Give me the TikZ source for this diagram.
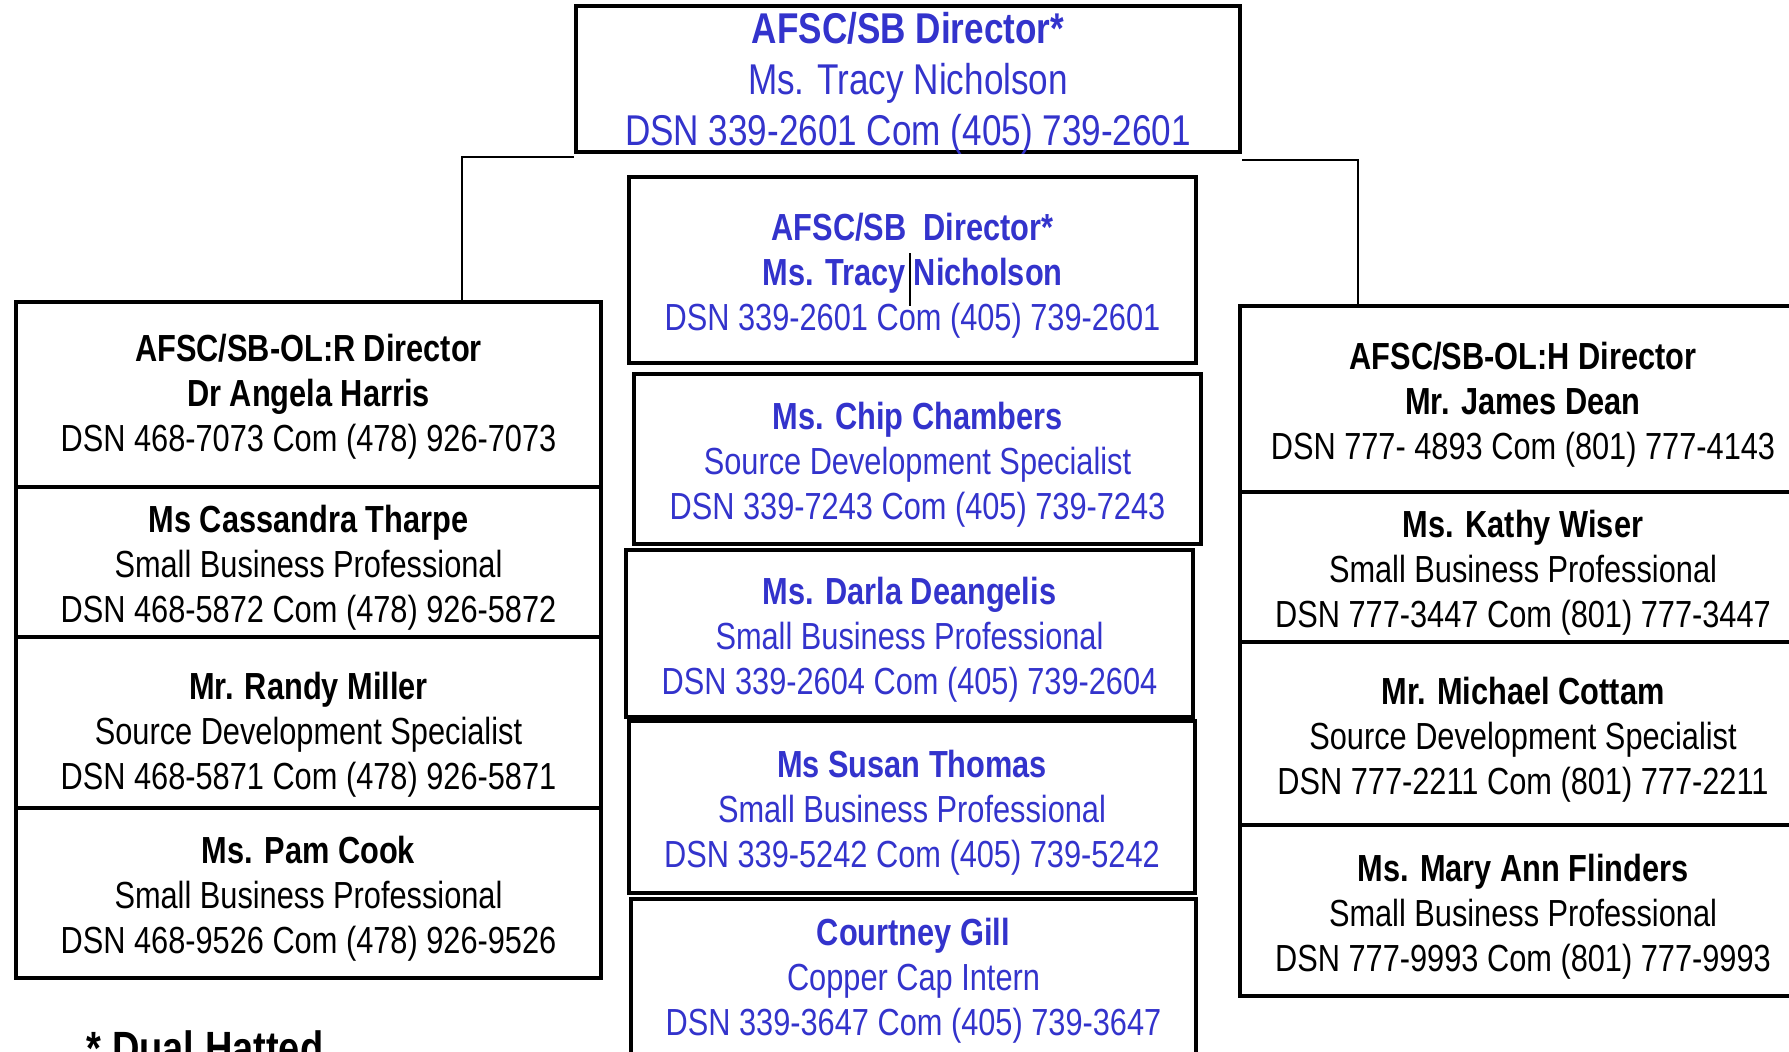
\documentclass[tikz,border=0pt]{standalone}
\usepackage{fontspec}
\setmainfont{Liberation Sans}[FakeStretch=0.815]
\usepackage{tikz}

\definecolor{sbblue}{RGB}{51,51,204}
\newcommand\bodysize{\fontsize{28.3}{33.75}\selectfont}
\newcommand\topsize{\fontsize{32.3}{38.2}\selectfont}
% first-line strut to sit the text a little lower in its box
\newcommand\tstrut[1][29.3pt]{\rule{0pt}{#1}}

\begin{document}
\begin{tikzpicture}[x=0.75pt,y=-0.75pt,
    box/.style={draw, line width=3.5pt, fill=white, align=center, inner sep=0pt, font=\bodysize},
    sbbox/.style={box, text=sbblue},
    link/.style={line width=1pt}]
  \clip (0,0) rectangle (1789,1052);

  % Director on top
  \node[sbbox, font=\topsize, inner ysep=-4pt, minimum width=498pt, minimum height=109.5pt] (dir) at (908,79)
    {\tstrut[30.4pt]\textbf{AFSC/SB Director*}\\Ms. Tracy Nicholson\\DSN 339-2601 Com (405) 739-2601};

  % Centre column (AFSC/SB)
  \node[sbbox, minimum width=425.25pt, minimum height=139.5pt] (sb) at (912.5,270)
    {\tstrut\textbf{AFSC/SB\ \ Director*}\\\textbf{Ms. Tracy Nicholson}\\DSN 339-2601 Com (405) 739-2601};
  \node[sbbox, minimum width=425.25pt, minimum height=127.5pt] (chambers) at (917.5,459)
    {\tstrut\textbf{Ms. Chip Chambers}\\Source Development Specialist\\DSN 339-7243 Com (405) 739-7243};
  \node[sbbox, minimum width=425.25pt, minimum height=125.25pt] (deangelis) at (909.5,633.5)
    {\tstrut\textbf{Ms. Darla Deangelis}\\Small Business Professional\\DSN 339-2604 Com (405) 739-2604};
  \node[sbbox, minimum width=424.5pt, minimum height=129pt] (thomas) at (912,807)
    {\tstrut\textbf{Ms Susan Thomas}\\Small Business Professional\\DSN 339-5242 Com (405) 739-5242};
  \node[sbbox, minimum width=423.75pt, minimum height=120.75pt] (gill) at (913.5,979.5)
    {\tstrut[22pt]\textbf{Courtney Gill}\\Copper Cap Intern\\DSN 339-3647 Com (405) 739-3647};

  % Left column (OL:R)
  \node[box, minimum width=438.75pt, minimum height=138.75pt] (olr) at (308.5,394.5)
    {\tstrut[24.1pt]\textbf{AFSC/SB-OL:R Director}\\\textbf{Dr Angela Harris}\\DSN 468-7073 Com (478) 926-7073};
  \node[box, minimum width=438.75pt, minimum height=112.5pt] (tharpe) at (308.5,562)
    {\tstrut\textbf{Ms Cassandra Tharpe}\\Small Business Professional\\DSN 468-5872 Com (478) 926-5872};
  \node[box, minimum width=438.75pt, minimum height=128.25pt] (miller) at (308.5,722.5)
    {\tstrut[39.5pt]\textbf{Mr. Randy Miller}\\Source Development Specialist\\DSN 468-5871 Com (478) 926-5871};
  \node[box, minimum width=438.75pt, minimum height=127.5pt] (cook) at (308.5,893)
    {\tstrut\textbf{Ms. Pam Cook}\\Small Business Professional\\DSN 468-9526 Com (478) 926-9526};

  % Right column (OL:H)
  \node[box, minimum width=424.5pt, minimum height=139.5pt] (olh) at (1523,399)
    {\tstrut\textbf{AFSC/SB-OL:H Director}\\\textbf{Mr. James Dean}\\DSN 777- 4893 Com (801) 777-4143};
  \node[box, minimum width=424.5pt, minimum height=112.5pt] (wiser) at (1523,567)
    {\tstrut\textbf{Ms. Kathy Wiser}\\Small Business Professional\\DSN 777-3447 Com (801) 777-3447};
  \node[box, minimum width=424.5pt, minimum height=137.25pt] (cottam) at (1523,733.5)
    {\tstrut\textbf{Mr. Michael Cottam}\\Source Development Specialist\\DSN 777-2211 Com (801) 777-2211};
  \node[box, minimum width=424.5pt, minimum height=128.25pt] (flinders) at (1523,910.5)
    {\tstrut\textbf{Ms. Mary Ann Flinders}\\Small Business Professional\\DSN 777-9993 Com (801) 777-9993};

  % links from the director
  \draw[link] ([yshift=-2pt]dir.south west) -| ([xshift=115.1pt]olr.north);
  \draw[link] ([yshift=-4.2pt]dir.south east) -| ([xshift=-123.75pt]olh.north);
  \draw[link] ([xshift=-1.9pt,yshift=12.75pt]sb.center) -- ++(0,53);

  \node[anchor=base west, font=\fontsize{35}{42}\selectfont\bfseries] (note) at (82,1064) {* Dual Hatted};
\end{tikzpicture}
\end{document}
